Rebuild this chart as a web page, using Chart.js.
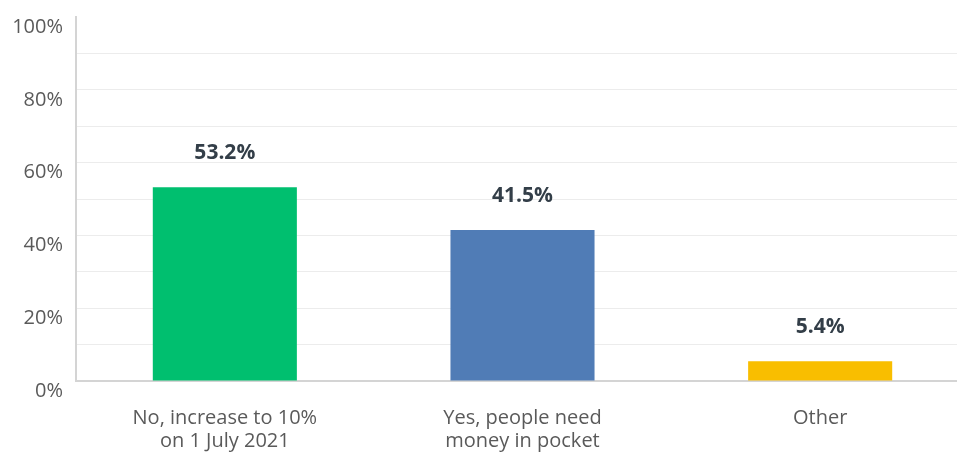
<!DOCTYPE html>
<html><head><meta charset="utf-8">
<script src="https://cdn.jsdelivr.net/npm/chart.js@4"></script>
<style>html,body{margin:0;padding:0;background:#fff;overflow:hidden}#w{width:969px;height:455px;position:relative}</style>
</head><body><div id="w"><canvas id="c"></canvas></div>
<script>
const categories = [["No, increase to 10%","on 1 July 2021"],["Yes, people need","money in pocket"],["Other"]];
const values = [53.2, 41.5, 5.4];
const valueLabels = ["53.2%","41.5%","5.4%"];
const barColors = ["#00bf6f","#507cb6","#f9be00"];
const yTickLabels = {0:"0%",20:"20%",40:"40%",60:"60%",80:"80%",100:"100%"};

const labelPlugin = {
  id:'vlabels',
  afterDatasetsDraw(chart){
    const ctx = chart.ctx;
    const meta = chart.getDatasetMeta(0);
    ctx.save();
    ctx.font = 'bold 21px "Open Sans"';
    ctx.fillStyle = '#333e48';
    ctx.textAlign = 'center';
    ctx.textBaseline = 'middle';
    meta.data.forEach((el,i)=>{ ctx.fillText(valueLabels[i], el.x, el.y - 34); });
    ctx.restore();
  }
};

new Chart(document.getElementById('c'),{
  type:'bar',
  data:{labels:categories,datasets:[{data:values,backgroundColor:barColors,barPercentage:0.484,categoryPercentage:1}]},
  options:{
    responsive:true,maintainAspectRatio:false,animation:false,
    layout:{padding:{top:16,left:0,right:0,bottom:0}},
    plugins:{legend:{display:false},tooltip:{enabled:false}},
    scales:{
      y:{min:0,max:100,
        ticks:{stepSize:10,padding:13,labelOffset:10,color:'#5a5a5a',font:{family:'"Open Sans"',size:20,lineHeight:0.4},
          callback:(v)=> yTickLabels[v] !== undefined ? yTickLabels[v] : ''},
        grid:{drawTicks:false,color:(c)=> c.tick && c.tick.value===100 ? 'rgba(0,0,0,0)' : '#ececec'},
        border:{display:true,color:'#d4d4d4',width:2},
        afterFit:(s)=>{s.width=76;}
      },
      x:{
        grid:{display:false,drawTicks:false},
        border:{display:true,color:'#d4d4d4',width:2},
        ticks:{padding:26,color:'#5a5a5a',font:{family:'"Open Sans"',size:20,lineHeight:1.15},maxRotation:0},
        afterFit:(s)=>{s.height=74;}
      }
    }
  },
  plugins:[labelPlugin]
});
</script></body></html>
